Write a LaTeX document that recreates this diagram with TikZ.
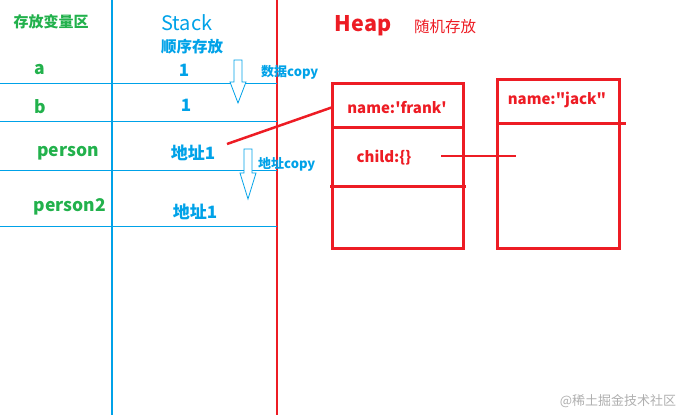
\documentclass[tikz,border=0pt]{standalone}
\usepackage{fontspec}
\newfontfamily\cjk{Noto Sans CJK SC}
\definecolor{pgreen}{RGB}{34,177,76}
\definecolor{pblue}{RGB}{0,162,232}
\definecolor{pred}{RGB}{237,28,36}
\definecolor{wm}{RGB}{175,175,175}
\begin{document}
\begin{tikzpicture}[x=1pt,y=-1pt,
  gtxt/.style={text=pgreen,font=\cjk\bfseries\fontsize{17.5}{17.5}\selectfont,inner sep=0pt},
  btxt/.style={text=pblue,font=\cjk\bfseries\fontsize{17}{17}\selectfont,inner sep=0pt},
  rtxt/.style={text=pred,font=\cjk\bfseries\fontsize{15}{15}\selectfont,inner sep=0pt},
  ctxt/.style={text=pblue,font=\cjk\bfseries\fontsize{13}{13}\selectfont,inner sep=0pt,anchor=west},
  rowline/.style={draw=pblue,line width=1pt},
  hollowarrow/.style={draw=pblue,line width=0.8pt,fill=white},
  redline/.style={draw=pred,line width=2.5pt},
  heapbox/.style={draw=pred,line width=3pt}]
\useasboundingbox (0,0) rectangle (688,415);
% columns
\draw[draw=pblue,line width=2.5pt] (112,0) coordinate (bt) -- (112,415) coordinate (bb);
\draw[redline] (277,0) coordinate (rt) -- (277,415) coordinate (rb);
% row lines
\foreach \y/\n in {83/r1,121/r2,170/r3,226/r4}{
  \draw[rowline] (0,\y) coordinate (\n l) -- (277,\y) coordinate (\n r);
}
% headers
\node[text=pgreen,font=\cjk\bfseries\fontsize{15}{15}\selectfont,inner sep=0pt] (hvar) at (51,22) {存放变量区};
\node[text=pblue,font=\cjk\fontsize{20}{20}\selectfont,inner sep=0pt] (hstack) at (187,23) {Stack};
\node[text=pblue,font=\cjk\bfseries\fontsize{15.5}{15.5}\selectfont,inner sep=0pt] (hstack2) at (192,47) {顺序存放};
\node[text=pred,font=\cjk\bfseries\fontsize{21.5}{21.5}\selectfont,inner sep=0pt] (hheap) at (363,26) {Heap};
\node[text=pred,font=\cjk\fontsize{15.5}{15.5}\selectfont,inner sep=0pt] (hheap2) at (445,27) {随机存放};
% variables
\node[gtxt] (va) at (40,70) {a};
\node[gtxt] (vb) at (40,107) {b};
\node[gtxt] (vp) at (68,153) {person};
\node[gtxt] (vp2) at (70,207) {person2};
% values
\node[btxt] (sa) at (184,70) {1};
\node[btxt] (sb) at (186,105) {1};
\node[btxt] (sp) at (193,153) {地址1};
\node[btxt] (sp2) at (195,212) {地址1};
% copy arrows
\draw[hollowarrow] (234,60) -- (242,60) -- (242,82) -- (246,82) -- (238,103) -- (230,82) -- (234,82) -- cycle;
\node[ctxt] (c1) at (261,72) {数据copy};
\draw[hollowarrow] (244,149) -- (252,149) -- (252,173) -- (256,173) -- (248,199) -- (240,173) -- (244,173) -- cycle;
\node[ctxt] (c2) at (258,164) {地址copy};
% heap boxes
\draw[heapbox] (332,83) rectangle (463,248);
\draw[heapbox] (331,127) coordinate (f1l) -- (464,127) coordinate (f1r);
\draw[heapbox] (330,186) coordinate (f2l) -- (466,186) coordinate (f2r);
\node[rtxt] (fname) at (397,108) {name:'frank'};
\node[rtxt] (fchild) at (384,158) {child:\{\}};
\draw[heapbox] (497,79) rectangle (619,248);
\draw[heapbox] (497,123) coordinate (j1l) -- (626,123) coordinate (j1r);
\node[rtxt] (jname) at (557,100) {name:"jack"};
% pointers
\coordinate (p1s) at (227,144);
\coordinate (p1e) at (333,107);
\draw[redline] (p1s) -- (p1e);
\coordinate (p2s) at (441,156);
\coordinate (p2e) at (516,156);
\draw[redline] (p2s) -- (p2e);
% watermark
\node[text=wm,font=\cjk\fontsize{13}{13}\selectfont,inner sep=0pt] (wmk) at (618,401) {@稀土掘金技术社区};
\end{tikzpicture}
\end{document}
